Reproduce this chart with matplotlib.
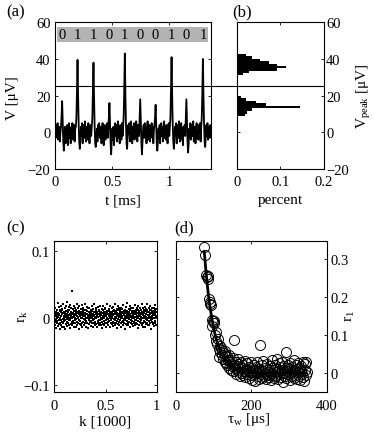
import numpy as np
import matplotlib
matplotlib.use('Agg')
import matplotlib.pyplot as plt
from matplotlib.lines import Line2D

plt.rcParams['font.family'] = ['Liberation Serif', 'DejaVu Serif']
plt.rcParams['font.size'] = 10.5
plt.rcParams['axes.labelsize'] = 11
plt.rcParams['axes.linewidth'] = 0.8
plt.rcParams['xtick.direction'] = 'in'
plt.rcParams['ytick.direction'] = 'in'
plt.rcParams['xtick.major.size'] = 2.5
plt.rcParams['ytick.major.size'] = 2.5
plt.rcParams['xtick.major.width'] = 0.6
plt.rcParams['ytick.major.width'] = 0.6

# (a) voltage trace, dt = 0.005 ms
dt = 0.005
trace_v = [2, -3, 4, -1, 5, -4, 1, 3, -5, 0,
           3, 9, 17, 6, -5, -10, -4, 3, -6, 2,
           -2, 4, -7, 1, 5, -3, 2, -6, 3, -1,
           5, -4, 0, 4, -5, 2, 3, 8, 22, 39.5,
           20, 5, -5, -9, -4, 3, -2, 5, -6, 1,
           4, -3, 6, -1, -5, 3, 0, -4, 5, 2,
           -6, 1, 4, -2, 3, 8, 22, 38, 19, 4,
           -6, -8, -3, 2, -5, 4, -1, 5, -3, 0,
           3, -6, 2, 5, -2, -7, 1, 4, -4, 3,
           -1, 5, -3, 2, 8, 16, 5, -6, -12, -5,
           2, -4, 3, -7, 1, 5, -2, 4, -5, 0,
           6, -3, 2, -6, 4, 1, -4, 5, -2, 3,
           9, 24, 43, 21, 4, -6, -9, -3, 4, -1,
           5, -5, 2, 6, -2, -6, 3, 0, 5, -4,
           2, -3, 6, -1, -5, 4, 1, -2, 9, 18,
           6, -5, -12, -6, 1, 4, -3, 5, -2, 2,
           -6, 3, 6, -4, 0, 4, -5, 2, -1, 5,
           -3, 3, -6, 1, 4, 8, 15, 5, -6, -10,
           -5, 2, -3, 4, -6, 1, 5, -2, 3, -5,
           0, 6, -3, 2, -4, 4, -1, -6, 3, 5,
           -2, 3, 8, 23, 41, 21, 5, -5, -9, -4,
           3, -2, 5, -6, 1, 4, -3, 6, -1, -5,
           2, 5, -4, 1, -7, 3, 0, 4, -2, 8,
           18, 6, -5, -11, -6, 2, -3, 5, -4, 1,
           4, -2, 6, -5, 0, 3, -6, 2, 5, -3,
           1, -4, 4, -1, 5, -5, 3, 8, 22, 40,
           20, 5, -5, -8, -3, 4, -2, 5, -4, 1,
           3, -3, 4, -1]
spike_t = [0.06, 0.195, 0.335, 0.475, 0.61, 0.745, 0.88, 1.02, 1.15, 1.295]
bits = ['0', '1', '1', '0', '1', '0', '0', '1', '0', '1']
threshold = 25

# (b) peak histogram
hist_hi_v = [42.05, 40.75, 39.45, 38.15, 36.85, 35.55, 34.25, 32.95, 31.65]
hist_hi_p = [0.021, 0.036, 0.053, 0.074, 0.092, 0.112, 0.092, 0.028, 0.015]
hist_lo_v = [19.3, 17.9, 16.5, 15.1, 13.7, 12.3, 10.9, 9.5]
hist_lo_p = [0.009, 0.021, 0.044, 0.066, 0.145, 0.036, 0.024, 0.018]

# (c) correlation r_k (in units of 0.001), every second k
rk_milli = [
    30, -6, 8, 2, -11, 14, 4, -3, 9, -15, 6, 0, -8, 12, 3, -5, 22, 5, -12, 7,
    1, -9, 6, 16, -3, 4, -17, 10, -1, 11, -7, 18, -4, 3, -10, 8, 13, -6, 5, -14,
    12, -2, -8, 7, 20, -5, 2, 9, -13, 0, 15, -4, 6, -16, 8, 1, 17, -9, 3, 10,
    -6, 5, 24, -2, -12, 3, 11, -7, 8, -1, -10, 16, 4, -3, 12, 0, -15, 6, 19, -4,
    -9, 9, 2, 14, -6, 5, -11, 40, -1, 7, -8, 13, 1, -5, 18, 6, -14, 3, 10, -3,
    4, 15, -7, 0, 8, -13, 11, -2, 5, -6, 21, 2, -10, 9, -1, 14, -8, 7, 1, -16,
    10, -4, 6, 17, -9, 3, 7, -5, 13, 0, -11, 9, 4, 19, -7, -1, 6, -14, 12, 2,
    -6, 8, 14, -2, 5, -10, 2, 11, -4, 21, 3, -8, 7, 0, -13, 12, 5, -5, 16, -1,
    6, -7, 10, 1, -15, 4, 14, -3, 8, -2, -9, 15, 2, 5, -6, 9, -1, -12, 12, 3,
    -5, 7, 0, 18, -8, 5, 10, -13, 2, 6, -4, 13, 4, -7, 8, -2, 20, -10, 1, 9,
    -1, -6, 11, 6, -9, 14, 0, 7, -14, 3, 9, -5, 16, 5, -8, 1, 10, -3, -11, 6,
    12, -4, 2, 8, -7, 17, 4, -10, 9, 0, 5, -15, 13, -2, 7, -6, 3, 11, -9, 18,
    1, -5, 6, 9, -11, -1, 13, 3, -7, 15, 5, -4, 8, -13, 2, 10, 0, -8, 7, 21,
    -6, 5, -2, 10, -10, 13, 3, 6, -5, 11, -1, -14, 9, 4, 18, -7, 1, 8, -4, 5,
    14, -9, 2, 7, 0, -12, 10, 16, -6, 4, -2, 12, -8, 6, 9, -4, 20, 1, -10, 6,
    -1, 10, -7, 5, 13, -5, 3, -15, 7, 17, -2, 6, -9, 11, 1, -6, 14, 4, -11, 8,
    2, -4, 11, 7, -8, 0, 15, -13, 5, 9, -6, -1, 13, 3, -10, 7, 19, -5, 4, -2,
    10, -7, 6, -17, 1, 12, 8, -4, 3, 16, -9, 7, 0, -11, 10, 5, -5, 22, 2, -8,
    7, -1, -10, 13, 4, -6, 9, -2, 17, -14, 6, 1, 11, -7, 3, -4, 14, 7, -9, 0,
    10, -5, 4, 8, -12, 2, 15, -1, -8, 10, 5, -6, 19, -3, 7, -10, 1, 12, -4, 6,
    -7, 9, 0, 14, -9, 7, 3, -15, 11, -1, 18, -5, 5, 8, -11, 2, 10, -6, 15, 4,
    -2, -8, 7, 1, 12, -4, 6, 20, -10, 9, 0, -7, 4, 14, -13, 8, -1, 11, -5, 3,
    7, 16, -6, 2, -14, 10, 5, -2, 13, -9, 1, 8, -4, 11, 21, -7, 4, 9, -11, 0,
    8, -5, 14, 3, -10, -1, 11, 6, -8, 17, 1, -4, 7, -16, 12, 2, -6, 9, -2, 15,
    -9, 5, 10, 0, -7, 15, 4, -12, 8, -1, 19, -5, 6, 11, -8, 1, 9, -11, 13, 2]

# (d) r_1 versus waiting time (r in units of 0.001)
tau_w = [75, 77, 80, 82, 84, 86, 87, 89, 91, 93, 95, 96, 98, 100, 102, 104, 106, 107,
         109, 111, 113, 114, 116, 118, 120, 121, 123, 125, 127, 129,
         130, 131, 133, 135, 136, 138, 140, 141, 143, 145, 146, 148, 150, 151, 153,
         154, 156, 158, 159, 161, 163, 164, 166, 168, 169, 171, 173, 174, 176, 178,
         179, 181, 183, 184, 186, 188, 189, 191, 193, 194, 196, 198, 199,
         201, 203, 204, 206, 208, 209, 211, 213, 214, 216, 218, 219, 221, 222, 224,
         226, 227, 229, 231, 232, 234, 236, 237, 239, 241, 242, 244, 246, 247, 249,
         251, 252, 254, 256, 257, 259, 261, 262, 264, 266, 267, 269, 271, 272, 274,
         276, 277, 279, 281, 282, 284, 286, 287, 289, 291, 292, 293, 295, 297, 298,
         300, 302, 303, 305, 307, 308, 310, 312, 313, 315, 317, 318, 320, 322, 323,
         325, 327, 328, 330, 332, 333, 335, 337, 338, 340, 342, 343, 345, 346, 348]
r1_milli = [331, 312, 258, 252, 255, 248, 196, 183, 186, 180, 140, 125, 136, 131, 138,
            99, 108, 85, 76, 90, 62, 41, 70, 55, 66, 48, 60, 38, 52, 45,
            30, 58, 25, 44, 20, 35, 12, 48, 28, 8, 33, 18, 40, 5, 22,
            88, 14, 30, -2, 19, 8, 36, 2, 24, -8, 15, 28, 0, 12, -5,
            20, 6, 32, -10, 10, -3, 25, 8, -14, 15, 2, 30, -6,
            12, -18, 5, 22, -4, 9, -20, 16, 0, 28, -9, 6, -15, 74, 11,
            -3, 20, -12, 4, 31, -7, 14, -1, -16, 9, 24, -5, 3, -11, 18,
            0, -19, 12, 35, -6, 7, -13, 21, 2, -8, 37, 10, -17, 4, 26,
            -3, 15, -10, 8, 30, -25, 1, 18, -7, 12, -14, 56, 5, 22, -4,
            10, -18, 27, 0, -9, 16, 4, -12, 34, 7, -6, 20, -15, 11, 2,
            25, -8, 14, -19, 6, 19, -3, 30, -11, -20, 9, 23, -5, 28, 3]
fit_tau = [75, 80, 85, 90, 95, 100, 105, 110, 115, 120, 130, 140, 150, 160, 180,
           200, 225, 250, 300, 345]
fit_r = [0.320, 0.262, 0.214, 0.176, 0.144, 0.118, 0.096, 0.079, 0.065, 0.053,
         0.036, 0.024, 0.016, 0.011, 0.005, 0.002, 0.001, 0.0, 0.0, 0.0]

W, H = 374, 435
fig = plt.figure(figsize=(W / 100, H / 100), dpi=100)


def box(l, t, r, b):
    return [l / W, 1 - b / H, (r - l) / W, (b - t) / H]


def put(axis, ax, px, py, rot=0):
    # centre an axis label on a pixel position of the figure
    bb = ax.get_position()
    x = (px / W - bb.x0) / bb.width
    y = ((1 - py / H) - bb.y0) / bb.height
    axis.set_label_coords(x, y)
    axis.label.set_ha('center')
    axis.label.set_va('center')
    axis.label.set_rotation(rot)
    axis.label.set_rotation_mode('default')


ax_a = fig.add_axes(box(55.3, 23.3, 211, 170))
ax_b = fig.add_axes(box(236.7, 23.3, 324, 170))
ax_c = fig.add_axes(box(54.3, 242.3, 156.7, 393.3))
ax_d = fig.add_axes(box(176, 242.3, 326.7, 393.3))

for ax in (ax_a, ax_b, ax_c, ax_d):
    ax.tick_params(top=True, right=True, left=True, bottom=True, pad=3.5)
    ax.tick_params(axis='x', pad=4.5)

# (a)
t = np.arange(len(trace_v)) * dt
ax_a.plot(t, trace_v, color='black', linewidth=1.3)
ax_a.axhspan(49.1, 57.3, xmin=0.009, xmax=0.983, color='#b3b3b3', lw=0)
for ts, b in zip(spike_t, bits):
    ax_a.text(ts, 53.2, b, ha='center', va='center', fontsize=10.5)
ax_a.axhline(threshold, color='black', linewidth=0.8)
ax_a.set_xlim(0, 1.366)
ax_a.set_ylim(-20, 60)
ax_a.set_xticks([0, 0.5, 1])
ax_a.set_xticklabels(['0', '0.5', '1'])
ax_a.set_yticks([-20, 0, 20, 40, 60])
ax_a.set_xlabel('t [ms]')
ax_a.set_ylabel('V [μV]')
put(ax_a.xaxis, ax_a, 122.5, 201)
put(ax_a.yaxis, ax_a, 12.5, 98, 90)

# (b)
ax_b.barh(hist_hi_v, hist_hi_p, height=1.3, color='black', lw=0)
ax_b.barh(hist_lo_v, hist_lo_p, height=1.4, color='black', lw=0)
ax_b.axhline(threshold, color='black', linewidth=0.8)
ax_b.set_xlim(0, 0.2)
ax_b.set_ylim(-20, 60)
ax_b.set_xticks([0, 0.1, 0.2])
ax_b.set_xticklabels(['0', '0.1', '0.2'])
ax_b.set_yticks([-20, 0, 20, 40, 60])
ax_b.tick_params(axis='y', labelleft=False, labelright=True, pad=1.5)
ax_b.set_xlabel('percent')
ax_b.yaxis.set_label_position('right')
ax_b.set_ylabel('V$_\\mathregular{peak}$ [μV]')
put(ax_b.xaxis, ax_b, 280, 201)
put(ax_b.yaxis, ax_b, 364, 96, 90)

# threshold line bridging (a) and (b)
pa = ax_a.get_position()
pb = ax_b.get_position()
ythr = pa.y0 + (threshold + 20) / 80 * pa.height
fig.add_artist(Line2D([pa.x1, pb.x0], [ythr, ythr], color='black', linewidth=0.8))

# (c)
k = np.arange(len(rk_milli)) * 2 / 1000
ax_c.plot(k, np.array(rk_milli) / 1000, 's', color='black', markersize=1.9,
          markeredgewidth=0)
ax_c.set_xlim(0, 1)
ax_c.set_ylim(-0.111, 0.114)
ax_c.set_xticks([0, 0.5, 1])
ax_c.set_xticklabels(['0', '0.5', '1'])
ax_c.set_yticks([-0.1, 0, 0.1])
ax_c.set_yticklabels(['\u22120.1', '0', '0.1'])
ax_c.set_xlabel('k [1000]')
ax_c.set_ylabel('r$_\\mathregular{k}$')
put(ax_c.xaxis, ax_c, 105.5, 422)
put(ax_c.yaxis, ax_c, 23, 317, 90)

# (d)
ax_d.plot(tau_w, np.array(r1_milli) / 1000, 'o', markersize=7.2,
          markerfacecolor='none', markeredgecolor='black', markeredgewidth=0.7)
ax_d.plot(fit_tau, fit_r, color='black', linewidth=2.0)
ax_d.set_xlim(0, 400)
ax_d.set_ylim(-0.051, 0.347)
ax_d.set_xticks([0, 200, 400])
ax_d.set_yticks([0, 0.1, 0.2, 0.3])
ax_d.set_yticklabels(['0', '0.1', '0.2', '0.3'])
ax_d.tick_params(axis='y', labelleft=False, labelright=True, pad=2.5)
ax_d.set_xlabel('τ$_\\mathregular{w}$ [μs]')
ax_d.yaxis.set_label_position('right')
ax_d.set_ylabel('r$_\\mathregular{1}$')
put(ax_d.xaxis, ax_d, 249, 420)
put(ax_d.yaxis, ax_d, 350, 316, 90)

for txt, (px, py) in zip(['(a)', '(b)', '(c)', '(d)'],
                         [(16, 12.5), (242, 12), (16, 228), (184, 228)]):
    fig.text(px / W, 1 - py / H, txt, ha='center', va='center', fontsize=12)

fig.savefig('out.png', dpi=100)
